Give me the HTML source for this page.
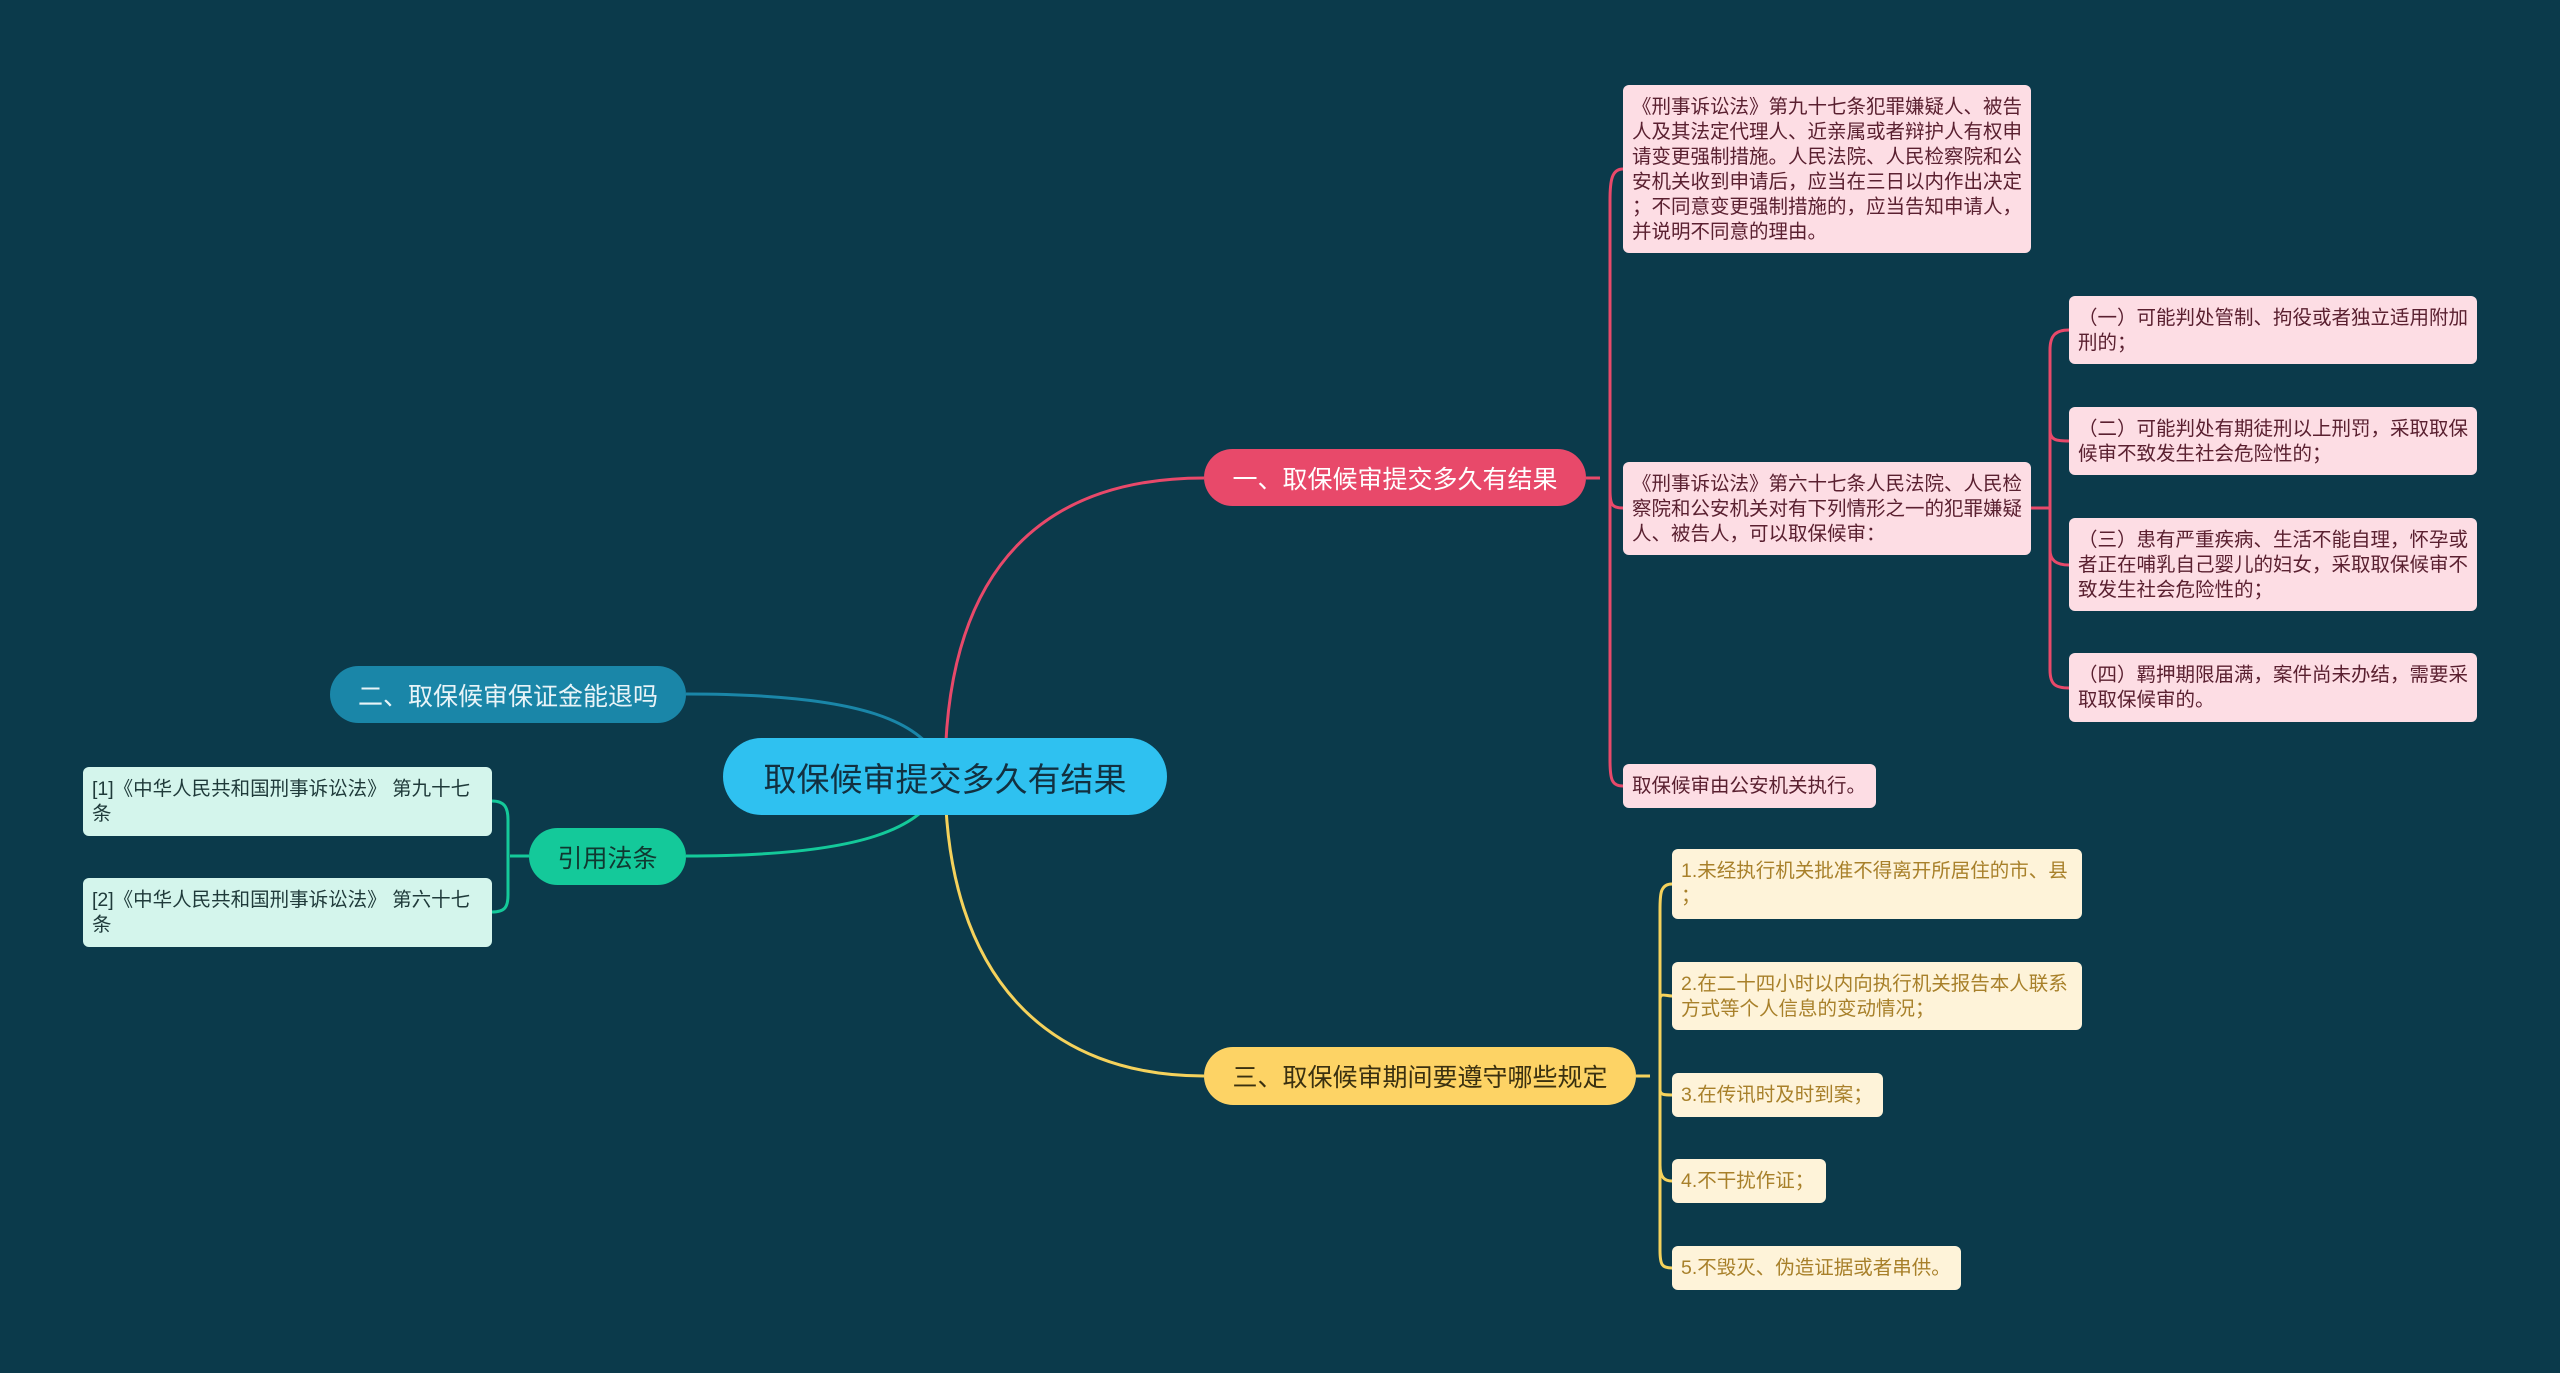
<!DOCTYPE html>
<html><head><meta charset="utf-8">
<style>
body{margin:0;width:2560px;height:1373px;background:#0b3a4b;position:relative;overflow:hidden;font-family:"Liberation Sans","Noto Sans CJK SC",sans-serif;}
.n{position:absolute;box-sizing:border-box;}
.main{border-radius:40px;display:flex;align-items:center;justify-content:center;white-space:nowrap;}
.leaf{border-radius:6px;font-size:19.5px;line-height:25px;padding:10px 9px 8px 9px;white-space:nowrap;}
.pk{background:#fddde4;color:#5a2030;}
.yl{background:#fef3d9;color:#a8802a;}
.mt{background:#d4f5ec;color:#1f3a3a;}
svg{position:absolute;left:0;top:0;}
</style></head><body>
<svg width="2560" height="1373" fill="none" stroke-width="3">
<path d="M945 775 C945 560 1050 478 1204 478" stroke="#e8496a"/>
<path d="M945 775 C945 980 1050 1076 1204 1076" stroke="#f5d25c"/>
<path d="M945 775 C930 720 860 694 686 694" stroke="#1a86a8"/>
<path d="M945 775 C930 830 860 856 686 856" stroke="#14c99a"/>
<path d="M1586 478 L1600 478 M1623 169 C1612 169 1610 180 1610 200 L1610 760 C1610 780 1612 786 1623 786 M1610 490 C1610 505 1612 508 1623 508" stroke="#e8496a"/>
<path d="M2031 508 L2050 508 M2069 330 C2056 330 2050 335 2050 350 L2050 670 C2050 685 2056 688 2069 688 M2050 430 C2050 440 2056 441 2069 441 M2050 550 C2050 560 2056 565 2069 565" stroke="#e8496a"/>
<path d="M1636 1076 L1650 1076 M1672 884 C1660 884 1660 895 1660 910 L1660 1250 C1660 1265 1662 1268 1672 1268 M1660 1000 C1660 992 1665 996 1672 996 M1660 1090 C1660 1095 1665 1095 1672 1095 M1660 1165 C1660 1178 1665 1181 1672 1181" stroke="#f5d25c"/>
<path d="M529 856 L510 856 M492 801 C505 801 508 808 508 820 L508 895 C508 907 505 912 492 912" stroke="#14c99a"/>
</svg>

<div class="n main" style="left:723px;top:738px;width:444px;height:77px;background:#2fc1f0;color:#123040;font-size:33px;">取保候审提交多久有结果</div>
<div class="n main" style="left:1204px;top:449px;width:382px;height:57px;background:#e8496a;color:#fff;font-size:25px;">一、取保候审提交多久有结果</div>
<div class="n main" style="left:330px;top:666px;width:356px;height:57px;background:#1a86a8;color:#e8f4f8;font-size:25px;">二、取保候审保证金能退吗</div>
<div class="n main" style="left:529px;top:828px;width:157px;height:57px;background:#14c99a;color:#103830;font-size:25px;">引用法条</div>
<div class="n main" style="left:1204px;top:1047px;width:432px;height:58px;background:#fdd365;color:#3a3010;font-size:25px;">三、取保候审期间要遵守哪些规定</div>

<div class="n leaf pk" style="left:1623px;top:85px;width:408px;height:168px;">《刑事诉讼法》第九十七条犯罪嫌疑人、被告<br>人及其法定代理人、近亲属或者辩护人有权申<br>请变更强制措施。人民法院、人民检察院和公<br>安机关收到申请后，应当在三日以内作出决定<br>；不同意变更强制措施的，应当告知申请人，<br>并说明不同意的理由。</div>
<div class="n leaf pk" style="left:1623px;top:462px;width:408px;height:93px;">《刑事诉讼法》第六十七条人民法院、人民检<br>察院和公安机关对有下列情形之一的犯罪嫌疑<br>人、被告人，可以取保候审：</div>
<div class="n leaf pk" style="left:1623px;top:764px;width:253px;height:44px;">取保候审由公安机关执行。</div>
<div class="n leaf pk" style="left:2069px;top:296px;width:408px;height:68px;">（一）可能判处管制、拘役或者独立适用附加<br>刑的；</div>
<div class="n leaf pk" style="left:2069px;top:407px;width:408px;height:68px;">（二）可能判处有期徒刑以上刑罚，采取取保<br>候审不致发生社会危险性的；</div>
<div class="n leaf pk" style="left:2069px;top:518px;width:408px;height:93px;">（三）患有严重疾病、生活不能自理，怀孕或<br>者正在哺乳自己婴儿的妇女，采取取保候审不<br>致发生社会危险性的；</div>
<div class="n leaf pk" style="left:2069px;top:653px;width:408px;height:69px;">（四）羁押期限届满，案件尚未办结，需要采<br>取取保候审的。</div>

<div class="n leaf yl" style="left:1672px;top:849px;width:410px;height:70px;">1.未经执行机关批准不得离开所居住的市、县<br>；</div>
<div class="n leaf yl" style="left:1672px;top:962px;width:410px;height:68px;">2.在二十四小时以内向执行机关报告本人联系<br>方式等个人信息的变动情况；</div>
<div class="n leaf yl" style="left:1672px;top:1073px;width:211px;height:44px;">3.在传讯时及时到案；</div>
<div class="n leaf yl" style="left:1672px;top:1159px;width:154px;height:44px;">4.不干扰作证；</div>
<div class="n leaf yl" style="left:1672px;top:1246px;width:289px;height:44px;">5.不毁灭、伪造证据或者串供。</div>

<div class="n leaf mt" style="left:83px;top:767px;width:409px;height:69px;">[1]《中华人民共和国刑事诉讼法》 第九十七<br>条</div>
<div class="n leaf mt" style="left:83px;top:878px;width:409px;height:69px;">[2]《中华人民共和国刑事诉讼法》 第六十七<br>条</div>
</body></html>
